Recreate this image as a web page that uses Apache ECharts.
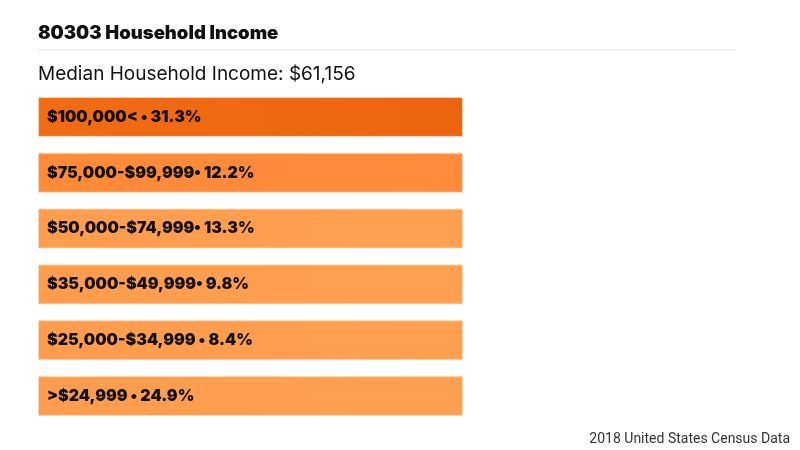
<!DOCTYPE html>
<html>
<head>
<meta charset="utf-8">
<script src="https://cdn.jsdelivr.net/npm/echarts@6/dist/echarts.min.js"></script>
<style>
html, body { margin: 0; padding: 0; background: #fff; }
#main { width: 800px; height: 450px; }
</style>
</head>
<body>
<div id="main"></div>
<script>
var myChart = echarts.init(document.getElementById('main'));

// income brackets, top to bottom
var brackets = ['$100,000<', '$75,000-$99,999', '$50,000-$74,999', '$35,000-$49,999', '$25,000-$34,999', '>$24,999'];
var separators = [' • ', '• ', '• ', '• ', ' • ', ' • '];
var shares = [31.3, 12.2, 13.3, 9.8, 8.4, 24.9];
// every bracket is drawn as a full-width box
var boxLength = [1, 1, 1, 1, 1, 1];
var medianIncome = '$61,156';

// bar colours: [left, right]
var barColors = [
    ['#f26c14', '#ec640f'],
    ['#ff8a38', '#ff8c3c'],
    ['#ff9c4e', '#ffa050'],
    ['#ff9c4e', '#ffa050'],
    ['#ff9c4e', '#ffa050'],
    ['#ff9c4e', '#ffa050']
];

var barData = brackets.map(function (b, i) {
    return {
        value: boxLength[i],
        name: b,
        itemStyle: {
            color: new echarts.graphic.LinearGradient(0, 0, 1, 0, [
                { offset: 0, color: barColors[i][0] },
                { offset: 1, color: barColors[i][1] }
            ]),
            borderColor: 'rgba(255,220,190,0.8)',
            borderWidth: 1
        }
    };
});

var option = {
    backgroundColor: '#ffffff',
    animation: false,
    title: [{
        text: '80303 Household Income',
        left: 33,
        top: 19,
        textStyle: {
            fontFamily: 'Inter',
            fontWeight: 900,
            fontSize: 18.5,
            color: '#111'
        }
    }, {
        text: 'Median Household Income: ' + medianIncome,
        left: 33,
        top: 60,
        textStyle: {
            fontFamily: 'Inter',
            fontWeight: 'normal',
            fontSize: 19,
            color: '#111'
        }
    }, {
        text: '2018 United States Census Data',
        right: 5,
        top: 427,
        textStyle: {
            fontFamily: 'Roboto',
            fontWeight: 'normal',
            fontSize: 14,
            color: '#333'
        }
    }],
    graphic: [{
        type: 'line',
        shape: { x1: 38, y1: 50, x2: 736, y2: 50 },
        style: { stroke: '#e2e2e2', lineWidth: 1 }
    }],
    grid: {
        left: 38,
        width: 425,
        top: 89,
        height: 335
    },
    xAxis: {
        type: 'value',
        min: 0,
        max: 1,
        show: false
    },
    yAxis: {
        type: 'category',
        data: brackets,
        inverse: true,
        show: false
    },
    series: [{
        type: 'bar',
        data: barData,
        barWidth: 40,
        label: {
            show: true,
            position: 'insideLeft',
            distance: 9,
            formatter: function (p) {
                return brackets[p.dataIndex] + separators[p.dataIndex] + shares[p.dataIndex] + '%';
            },
            fontFamily: 'Inter',
            fontWeight: 900,
            fontSize: 16,
            color: '#111'
        }
    }]
};

myChart.setOption(option);
</script>
</body>
</html>
